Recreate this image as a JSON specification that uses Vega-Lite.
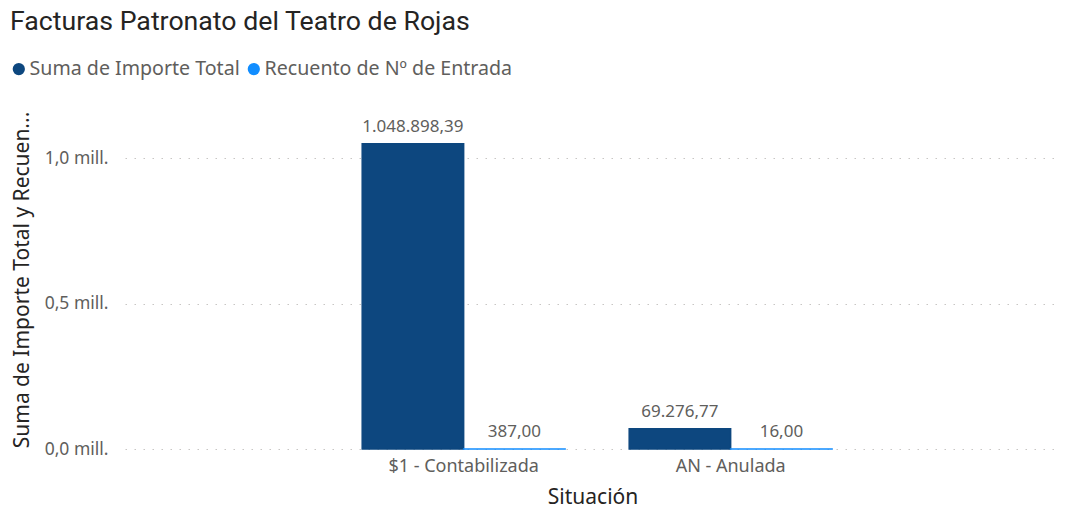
{
  "$schema": "https://vega.github.io/schema/vega-lite/v6.json",
  "autosize": "none",
  "width": 935,
  "height": 339,
  "padding": {"left": 125, "top": 110, "right": 11, "bottom": 60},
  "background": "white",
  "title": {
    "text": "Facturas Patronato del Teatro de Rojas",
    "anchor": "start",
    "frame": "group",
    "dx": -115,
    "dy": -13,
    "font": "Roboto",
    "fontSize": 26.7,
    "fontWeight": "normal",
    "color": "#252423",
    "offset": 10
  },
  "config": {
    "locale": {"number": {"decimal": ",", "thousands": ".", "grouping": [3], "currency": ["", " €"]}},
    "view": {"stroke": null},
    "font": "Noto Sans"
  },
  "data": {
    "values": [
      {"Situacion": "$1 - Contabilizada", "Medida": "Suma de Importe Total", "Valor": 1048898.39},
      {"Situacion": "$1 - Contabilizada", "Medida": "Recuento de Nº de Entrada", "Valor": 387},
      {"Situacion": "AN - Anulada", "Medida": "Suma de Importe Total", "Valor": 69276.77},
      {"Situacion": "AN - Anulada", "Medida": "Recuento de Nº de Entrada", "Valor": 16}
    ]
  },
  "encoding": {
    "x": {
      "field": "Situacion",
      "type": "nominal",
      "sort": ["$1 - Contabilizada", "AN - Anulada"],
      "title": "Situación",
      "scale": {"paddingInner": 0.24, "paddingOuter": 0.871, "align": 0.51},
      "axis": {
        "labelAngle": 0,
        "domain": false,
        "ticks": false,
        "labelPadding": 8,
        "labelFontSize": 18,
        "labelColor": "#605E5C",
        "titleFontSize": 21,
        "titleFontWeight": "normal",
        "titleColor": "#252423",
        "titlePadding": 11
      }
    },
    "xOffset": {
      "field": "Medida",
      "type": "nominal",
      "sort": ["Suma de Importe Total", "Recuento de Nº de Entrada"],
      "scale": {"paddingInner": 0, "paddingOuter": 0}
    },
    "y": {
      "field": "Valor",
      "type": "quantitative",
      "title": "Suma de Importe Total y Recuen...",
      "scale": {"domain": [0, 1165000], "nice": false},
      "axis": {
        "values": [0, 500000, 1000000],
        "labelExpr": "replace(format(datum.value / 1000000, '.1f'), '.', ',') + ' mill.'",
        "domain": false,
        "ticks": false,
        "labelPadding": 17,
        "labelFontSize": 17.5,
        "labelColor": "#605E5C",
        "grid": true,
        "gridColor": "#C8C6C4",
        "gridDash": [1.5, 7.5],
        "gridWidth": 1.2,
        "titleFontSize": 21,
        "titleFontWeight": "normal",
        "titleColor": "#252423",
        "titleX": -93,
        "titleLimit": 0
      }
    }
  },
  "layer": [
    {
      "mark": {"type": "bar", "strokeWidth": 1.5},
      "encoding": {
        "color": {
          "field": "Medida",
          "type": "nominal",
          "scale": {"domain": ["Suma de Importe Total", "Recuento de Nº de Entrada"], "range": ["#0D477F", "#118DFF"]},
          "legend": {
            "title": null,
            "orient": "none",
            "legendX": -116,
            "legendY": -51,
            "direction": "horizontal",
            "symbolType": "circle",
            "symbolSize": 150,
            "symbolStrokeWidth": 0,
            "labelFontSize": 19.6,
            "labelLimit": 0,
            "labelColor": "#605E5C",
            "labelOffset": 1,
            "columnPadding": 4
          }
        },
        "stroke": {
          "field": "Medida",
          "type": "nominal",
          "scale": {"domain": ["Suma de Importe Total", "Recuento de Nº de Entrada"], "range": ["#0D477F", "#118DFF"]},
          "legend": null
        }
      }
    },
    {
      "mark": {"type": "text", "baseline": "bottom", "dy": -8, "fontSize": 17, "color": "#605E5C"},
      "encoding": {
        "text": {"field": "Valor", "type": "quantitative", "format": ",.2f"}
      }
    }
  ]
}
